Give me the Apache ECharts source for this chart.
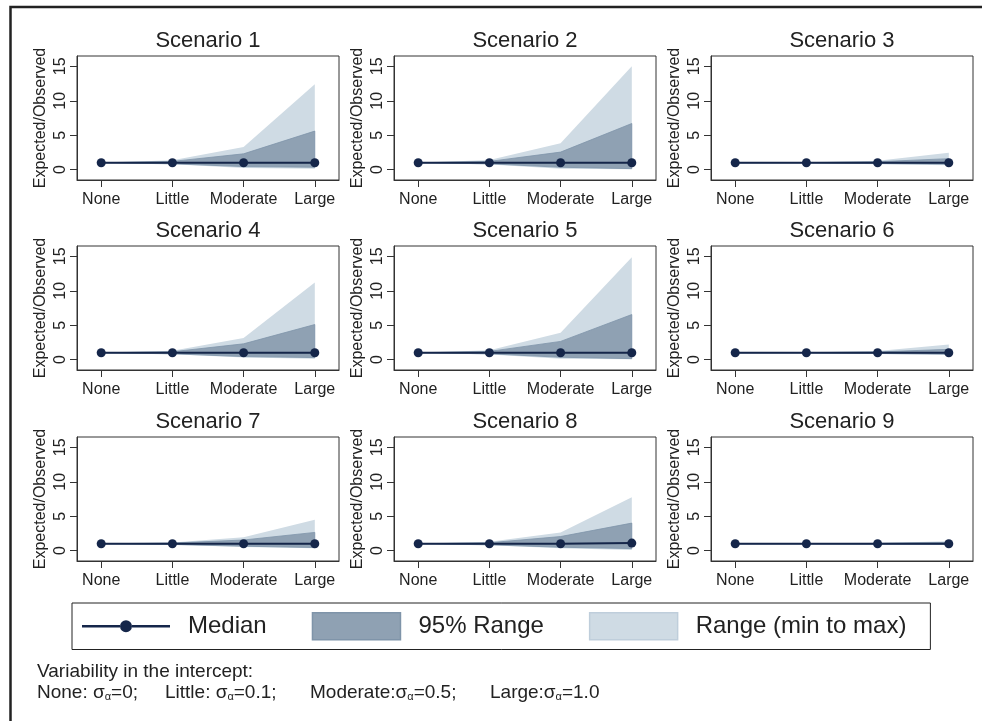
<!DOCTYPE html>
<html><head><meta charset="utf-8">
<script src="https://cdn.jsdelivr.net/npm/echarts@6/dist/echarts.min.js"></script>
<style>html,body{margin:0;padding:0;background:#fff}#c{width:982px;height:721px}</style>
</head><body><div id="c"></div>
<script>
// ---------- data ----------
const categories = ['None', 'Little', 'Moderate', 'Large'];
const scenarioTitles = ['Scenario 1','Scenario 2','Scenario 3','Scenario 4','Scenario 5','Scenario 6','Scenario 7','Scenario 8','Scenario 9'];
const yTickValues = [0, 5, 10, 15];
const medianVals = [
  [1, 1, 1, 1], [1, 1, 1, 1], [1, 1, 1, 1],
  [1, 1, 1, 1], [1, 1, 1, 1], [1, 1, 1, 1],
  [1, 1, 1, 1], [1, 1, 1, 1.1], [1, 1, 1, 1]
];
const rangeMax = [
  [1, 1.35, 3.3, 12.4], [1, 1.4, 3.85, 15.0], [1, 1.05, 1.3, 2.45],
  [1, 1.3, 3.15, 11.2], [1, 1.35, 3.9, 14.85], [1, 1.05, 1.25, 2.2],
  [1, 1.2, 1.95, 4.5], [1, 1.3, 2.65, 7.75], [1, 1.03, 1.1, 1.35]
];
const upper95 = [
  [1, 1.2, 2.3, 5.6], [1, 1.2, 2.55, 6.7], [1, 1.02, 1.15, 1.6],
  [1, 1.15, 2.3, 5.1], [1, 1.2, 2.65, 6.55], [1, 1.02, 1.12, 1.5],
  [1, 1.1, 1.55, 2.65], [1, 1.15, 2.05, 4.0], [1, 1.02, 1.06, 1.2]
];
const lower95 = [
  [1, 0.85, 0.45, 0.35], [1, 0.85, 0.35, 0.15], [1, 0.98, 0.9, 0.8],
  [1, 0.85, 0.45, 0.3], [1, 0.85, 0.35, 0.15], [1, 0.98, 0.9, 0.8],
  [1, 0.9, 0.65, 0.45], [1, 0.85, 0.5, 0.3], [1, 0.98, 0.94, 0.9]
];
const rangeMin = [
  [1, 0.8, 0.25, 0.15], [1, 0.75, 0.15, 0.05], [1, 0.95, 0.8, 0.65],
  [1, 0.8, 0.3, 0.15], [1, 0.75, 0.15, 0.05], [1, 0.95, 0.82, 0.7],
  [1, 0.85, 0.55, 0.35], [1, 0.8, 0.35, 0.1], [1, 0.97, 0.9, 0.85]
];
const legendNames = ['Median', '95% Range', 'Range (min to max)'];

// ---------- styling / layout ----------
const FONT = '"Liberation Sans", Arial, Helvetica, sans-serif';
const TXT = '#222';
const AX = '#333';
const C_MED = '#15264a';
const C_95 = '#8fa1b3';
const C_95_EDGE = '#7f94a9';
const C_RANGE = '#cfdbe4';
const colLeft = [77, 394, 711];
const rowTop = [56, 246, 437];
const gridW = 262, gridH = 124;

const grids = [], xAxes = [], yAxes = [], series = [], graphics = [];

function bandSeries(name, k, lo, hi, fill, stroke, z) {
  return {
    type: 'custom', name: name, xAxisIndex: k, yAxisIndex: k, z: z, silent: true,
    itemStyle: { color: fill },
    data: categories.map((c, i) => [i, lo[i], hi[i]]),
    encode: { x: 0, y: [1, 2] },
    renderItem: function (params, api) {
      if (params.dataIndex !== 0) return null;
      const top = [], bot = [];
      for (let i = 0; i < lo.length; i++) {
        top.push(api.coord([i, hi[i]]));
        bot.unshift(api.coord([i, lo[i]]));
      }
      return {
        type: 'polygon',
        shape: { points: top.concat(bot) },
        style: { fill: fill, stroke: stroke || null, lineWidth: stroke ? 0.8 : 0 }
      };
    }
  };
}

for (let k = 0; k < 9; k++) {
  const r = Math.floor(k / 3), c = k % 3;
  const left = colLeft[c], top = rowTop[r];
  grids.push({ left: left, top: top, width: gridW, height: gridH, show: true,
    borderColor: AX, borderWidth: 1, backgroundColor: 'transparent', containLabel: false, outerBoundsMode: 'none' });
  xAxes.push({
    gridIndex: k, type: 'value', min: -0.34, max: 3.34,
    axisLine: { show: true, onZero: false, lineStyle: { color: AX, width: 1 } },
    axisTick: { show: true, length: 7, customValues: [0, 1, 2, 3], lineStyle: { color: AX } },
    axisLabel: { customValues: [0, 1, 2, 3], formatter: v => categories[Math.round(v)],
      fontSize: 16, color: TXT, margin: 12, fontFamily: FONT },
    splitLine: { show: false }
  });
  yAxes.push({
    gridIndex: k, type: 'value', min: -1.5, max: 16.5,
    name: 'Expected/Observed', nameLocation: 'middle', nameGap: 28,
    nameTextStyle: { fontSize: 16, color: TXT, fontFamily: FONT },
    axisLine: { show: true, onZero: false, lineStyle: { color: AX, width: 1 } },
    axisTick: { show: true, length: 7, customValues: yTickValues, lineStyle: { color: AX } },
    axisLabel: { customValues: yTickValues, rotate: 90, fontSize: 16, color: TXT, margin: 8, fontFamily: FONT },
    splitLine: { show: false }
  });
  series.push(bandSeries('Range (min to max)', k, rangeMin[k], rangeMax[k], C_RANGE, null, 1));
  series.push(bandSeries('95% Range', k, lower95[k], upper95[k], C_95, C_95_EDGE, 2));
  series.push({
    type: 'line', name: 'Median', xAxisIndex: k, yAxisIndex: k, z: 5,
    data: medianVals[k].map((v, i) => [i, v]),
    symbol: 'circle', symbolSize: 9, showSymbol: true,
    lineStyle: { color: C_MED, width: 2 }, itemStyle: { color: C_MED }
  });
  graphics.push({ type: 'text', x: left + gridW / 2, y: top - 15,
    style: { text: scenarioTitles[k], font: '22px ' + FONT, fill: TXT, align: 'center', verticalAlign: 'middle' } });
}

// outer frame (left & top)
graphics.push({ type: 'rect', shape: { x: 10.5, y: 7, width: 1000, height: 1000 },
  style: { fill: 'none', stroke: '#222', lineWidth: 2.5 } });

// footnote
const rich = {
  s: { fontSize: 19, fontFamily: FONT, fill: TXT, verticalAlign: 'bottom', lineHeight: 21 },
  a: { fontSize: 11, fontFamily: FONT, fill: TXT, verticalAlign: 'bottom', lineHeight: 14 },
  t: { fontSize: 19, fontFamily: FONT, fill: TXT, verticalAlign: 'bottom', lineHeight: 21 }
};
graphics.push({ type: 'text', x: 37, y: 672,
  style: { text: 'Variability in the intercept:', font: '19px ' + FONT, fill: TXT, verticalAlign: 'middle' } });
const footParts = [['None: ', '0;', 37], ['Little: ', '0.1;', 165], ['Moderate:', '0.5;', 310], ['Large:', '1.0', 490]];
footParts.forEach(p => {
  graphics.push({ type: 'text', x: p[2], y: 692,
    style: { text: '{t|' + p[0] + '}{s|σ}{a|α}{t|=' + p[1] + '}', rich: rich, font: '19px ' + FONT, fill: TXT, verticalAlign: 'middle' } });
});

const medianIcon = 'path://M0,0 M88,27 M0,12.3 L38,12.3 L38,14.7 L0,14.7 Z M50,12.3 L88,12.3 L88,14.7 L50,14.7 Z M50,13.5 A6,6 0 1 1 38,13.5 A6,6 0 1 1 50,13.5 Z';

const option = {
  animation: false,
  backgroundColor: '#fff',
  grid: grids, xAxis: xAxes, yAxis: yAxes, series: series,
  legend: {
    left: 72, top: 603, orient: 'horizontal',
    padding: [9, 24, 9, 10], itemGap: 45, itemWidth: 88, itemHeight: 27,
    borderColor: '#222', borderWidth: 1, selectedMode: false,
    textStyle: { fontSize: 24, color: TXT, fontFamily: FONT, padding: [0, 0, 0, 13] },
    data: [
      { name: legendNames[0], icon: medianIcon, itemStyle: { color: C_MED, borderWidth: 0 } },
      { name: legendNames[1], icon: 'rect', itemStyle: { color: C_95, borderColor: C_95_EDGE, borderWidth: 1.5 } },
      { name: legendNames[2], icon: 'rect', itemStyle: { color: C_RANGE, borderColor: '#bfcedb', borderWidth: 1.5 } }
    ]
  },
  graphic: { elements: graphics }
};
echarts.init(document.getElementById('c'), null, { renderer: 'canvas' }).setOption(option);
</script></body></html>
